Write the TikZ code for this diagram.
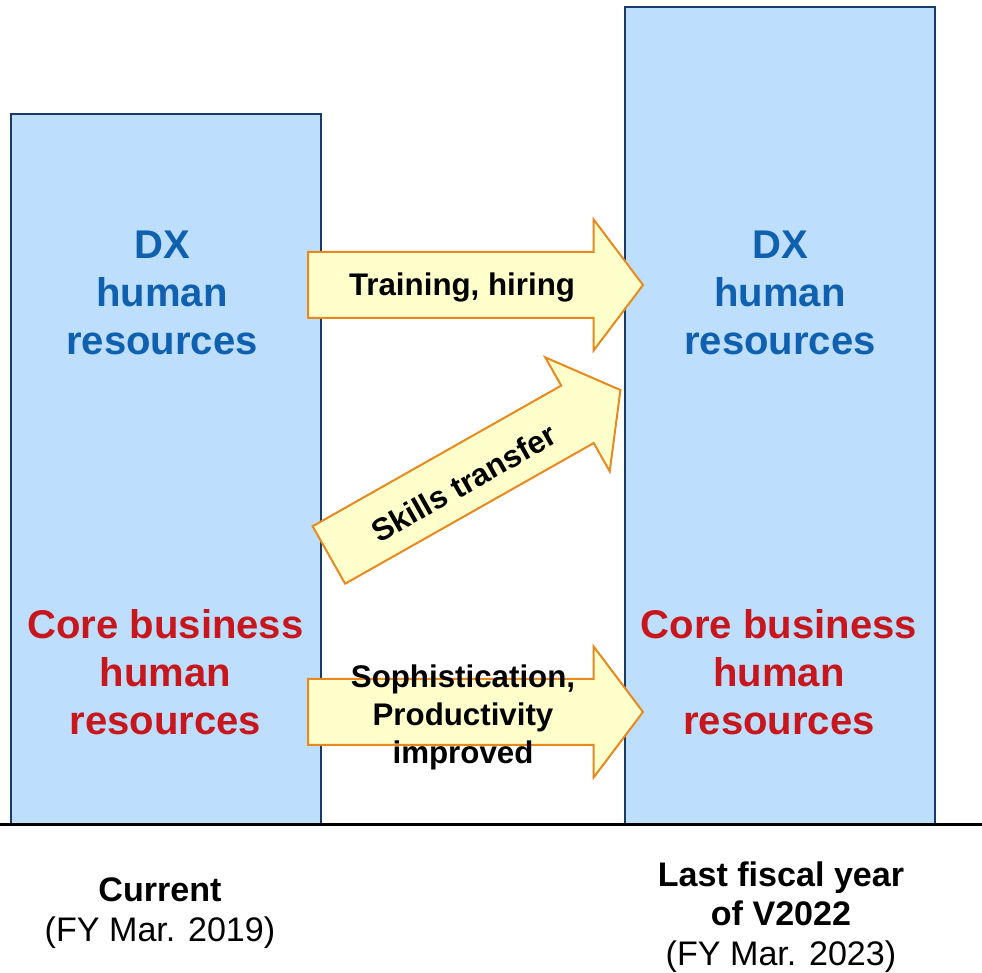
\documentclass[tikz,border=0pt]{standalone}
\usepackage{fontspec}
\setmainfont{Liberation Sans}
\usetikzlibrary{shapes.arrows,positioning}

\definecolor{barfill}{RGB}{189,223,253}
\definecolor{barline}{RGB}{26,59,102}
\definecolor{dxblue}{RGB}{16,96,176}
\definecolor{corered}{RGB}{200,22,29}
\definecolor{arrfill}{RGB}{255,255,204}
\definecolor{arrline}{RGB}{232,137,30}

\begin{document}
\begin{tikzpicture}[x=0.2mm, y=0.2mm,
    bar/.style={rectangle, draw=barline, fill=barfill, line width=0.4mm,
                inner sep=0pt, minimum width=62mm, anchor=south west},
    dxtext/.style={text=dxblue, align=center,
                   font=\fontsize{22.8}{27.3}\selectfont\bfseries},
    coretext/.style={text=corered, align=center,
                     font=\fontsize{22.8}{27.3}\selectfont\bfseries},
    fatarrow/.style={single arrow, draw=arrline, fill=arrfill, line width=0.4mm,
                     inner xsep=0pt, inner ysep=6.4mm, minimum height=67mm,
                     minimum width=26mm, single arrow head extend=6.5mm,
                     single arrow tip angle=106, anchor=tail},
    arrtext/.style={align=center, font=\fontsize{17.8}{21.6}\selectfont\bfseries},
    yeartext/.style={align=center, font=\fontsize{19.4}{22.5}\selectfont}
]
\useasboundingbox (0,0) rectangle (982,973);

% Bars
\node[bar, minimum height=142mm] (curbar) at (10,148) {};
\node[bar, minimum height=163.4mm] (tgtbar) at (624,148) {};

% Axis
\coordinate (axisL) at (0,148);
\coordinate (axisR) at (982,148);
\draw[line width=0.6mm] (axisL) -- (axisR);

% Bar contents
\node[dxtext] (dxnow) at (162,680) {DX\\human\\resources};
\node[coretext] (corenow) at (165.5,301) {Core business\\human\\resources};
\node[dxtext] (dxtgt) at (780,680) {DX\\human\\resources};
\node[coretext] (coretgt) at (779,301) {Core business\\human\\resources};

% Arrows
\node[fatarrow] (train) at (307,688) {};
\node[fatarrow, rotate=29.5] (skill) at (328,417.5) {};
\node[fatarrow] (sophis) at (307,261) {};

\node[arrtext] (traintxt) at (462,686) {Training, hiring};
\node[arrtext, rotate=29.5] (skilltxt) at (464,490) {Skills transfer};
\node[arrtext] (sophistxt) at (463,256) {Sophistication,\\Productivity\\improved};

% Periods
\node[yeartext] (now) at (160,60) {\textbf{Current}\\(FY Mar. 2019)};
\node[yeartext] (tgt) at (781,56) {\textbf{Last fiscal year}\\\textbf{of V2022}\\(FY Mar. 2023)};

\end{tikzpicture}
\end{document}
